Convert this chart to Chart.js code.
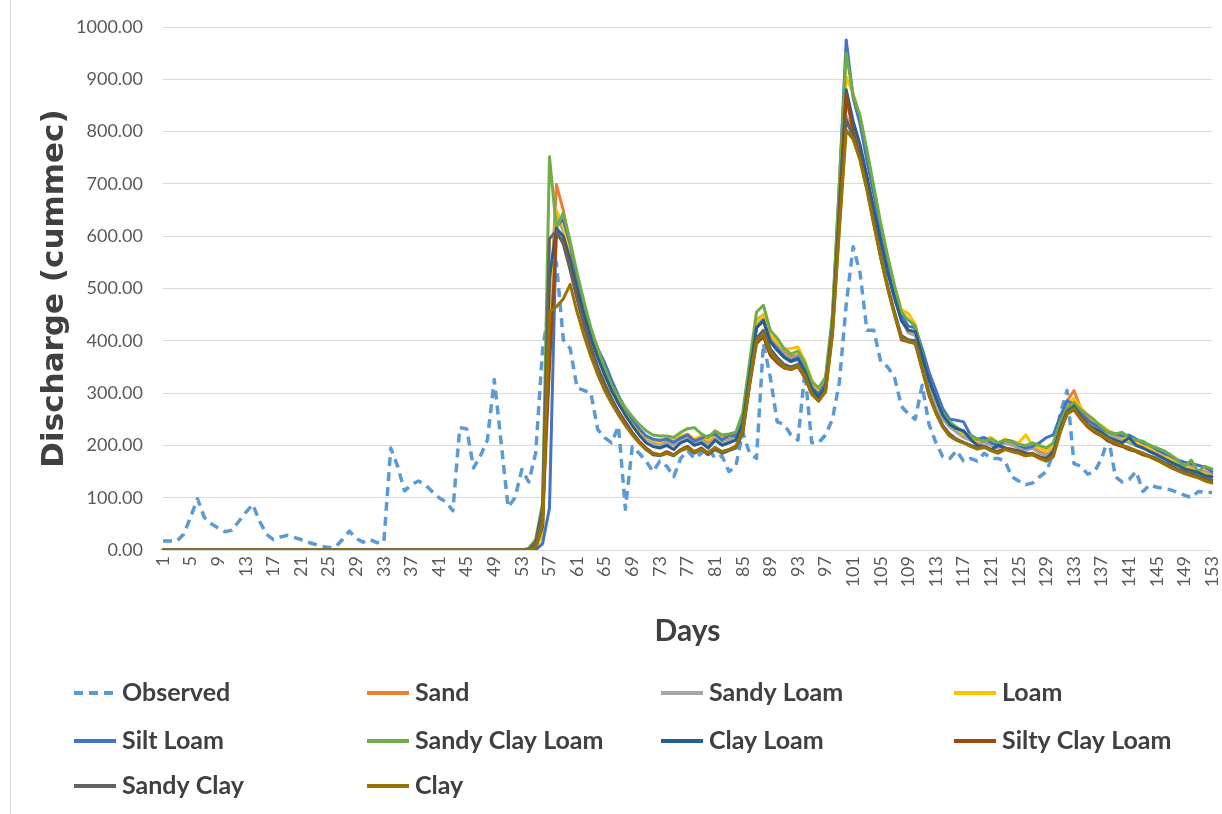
<!DOCTYPE html>
<html>
<head>
<meta charset="utf-8">
<title>Discharge by soil texture</title>
<script src="https://cdn.jsdelivr.net/npm/chart.js@4.4.1/dist/chart.umd.min.js"></script>
<style>
  html, body { margin: 0; padding: 0; background: #ffffff; }
  #wrap { width: 1222px; height: 814px; position: relative; }
  canvas { display: block; }
</style>
</head>
<body>
<div id="wrap"><canvas id="chart" width="1222" height="814"></canvas></div>
<script>
// Day numbers on the x axis
const days = [
  '1','2','3','4','5','6','7','8','9','10','11','12','13','14','15','16','17','18','19','20',
  '21','22','23','24','25','26','27','28','29','30','31','32','33','34','35','36','37','38','39','40',
  '41','42','43','44','45','46','47','48','49','50','51','52','53','54','55','56','57','58','59','60',
  '61','62','63','64','65','66','67','68','69','70','71','72','73','74','75','76','77','78','79','80',
  '81','82','83','84','85','86','87','88','89','90','91','92','93','94','95','96','97','98','99','100',
  '101','102','103','104','105','106','107','108','109','110','111','112','113','114','115','116','117','118','119','120',
  '121','122','123','124','125','126','127','128','129','130','131','132','133','134','135','136','137','138','139','140',
  '141','142','143','144','145','146','147','148','149','150','151','152','153'
];

// Observed discharge (cummec), days 1-153
const observed = [
  17,17,17,30,63,98,62,50,42,35,
  38,55,72,87,55,30,20,25,28,24,
  20,15,11,7,5,6,20,36,22,15,
  20,14,15,195,160,113,125,132,125,112,
  100,92,75,234,232,157,180,210,326,205,
  82,100,154,130,185,383,470,550,402,385,
  310,305,300,230,215,205,237,78,198,185,
  170,150,170,160,140,175,190,175,185,195,
  175,180,150,160,225,185,175,395,330,245,
  240,220,210,340,205,205,220,250,320,470,
  580,530,420,420,360,350,330,275,260,250,
  315,240,205,178,175,190,170,175,170,185,
  175,175,170,140,132,125,128,140,150,185,
  260,305,165,160,145,150,175,215,140,130,
  135,150,112,125,120,118,115,110,105,100,
  112,110,110
];

// Simulated discharge per soil texture class, days 1-153
const sand = [
  0,0,0,0,0,0,0,0,0,0, 0,0,0,0,0,0,0,0,0,0, 0,0,0,0,0,0,0,0,0,0, 0,0,0,0,0,0,0,0,0,0, 0,0,0,0,0,0,0,0,0,0, 0,0,0,
  0,5,40,430,699,650,580,515,460,415,
  375,340,312,290,268,248,230,215,208,205,
  210,205,215,220,210,215,205,220,212,215,
  220,250,340,440,450,410,395,378,370,372,
  352,318,300,325,440,670,855,815,770,710,
  650,590,535,485,445,420,412,365,320,285,
  255,238,228,220,212,205,210,202,198,210,
  205,198,192,198,188,182,195,245,285,305,
  270,252,240,235,225,218,212,210,205,198,
  192,188,182,175,168,162,160,152,150,145
];
const sandyLoam = [
  0,0,0,0,0,0,0,0,0,0, 0,0,0,0,0,0,0,0,0,0, 0,0,0,0,0,0,0,0,0,0, 0,0,0,0,0,0,0,0,0,0, 0,0,0,0,0,0,0,0,0,0, 0,0,0,
  0,5,35,480,640,610,560,505,455,410,
  370,335,305,280,258,240,225,212,205,200,
  205,200,210,215,205,210,200,215,205,210,
  215,240,330,430,445,405,390,375,365,370,
  350,315,300,320,430,660,830,800,760,700,
  640,585,530,480,440,415,410,360,315,280,
  250,235,225,215,210,200,205,200,195,205,
  200,195,190,195,185,180,190,235,270,285,
  260,245,235,230,220,215,210,205,200,195,
  190,185,178,172,165,160,158,150,148,145
];
const loam = [
  0,0,0,0,0,0,0,0,0,0, 0,0,0,0,0,0,0,0,0,0, 0,0,0,0,0,0,0,0,0,0, 0,0,0,0,0,0,0,0,0,0, 0,0,0,0,0,0,0,0,0,0, 0,0,0,
  0,3,30,450,650,620,570,515,462,418,
  378,342,312,288,262,245,228,215,210,205,
  215,208,218,222,212,218,210,222,215,218,
  222,255,345,435,450,410,398,385,385,388,
  362,325,305,322,435,680,905,872,830,760,
  690,620,560,505,460,452,432,378,330,292,
  262,245,232,222,218,208,212,215,205,212,
  208,205,220,200,195,188,200,250,278,290,
  272,258,245,238,228,222,215,210,205,200,
  195,190,183,175,170,162,155,150,145,140
];
const siltLoam = [
  0,0,0,0,0,0,0,0,0,0, 0,0,0,0,0,0,0,0,0,0, 0,0,0,0,0,0,0,0,0,0, 0,0,0,0,0,0,0,0,0,0, 0,0,0,0,0,0,0,0,0,0, 0,0,0,
  0,0,12,80,620,632,585,520,470,420,
  385,358,325,295,270,250,232,218,212,210,
  212,206,214,220,208,214,218,222,210,220,
  218,255,350,425,440,400,385,370,362,368,
  345,310,298,318,440,700,975,865,815,745,
  680,610,550,495,450,428,425,385,340,305,
  270,250,248,245,220,212,215,205,200,210,
  208,200,195,198,205,215,220,255,285,278,
  262,248,240,232,225,222,218,220,212,205,
  200,192,185,180,172,168,165,162,158,150
];
const sandyClayLoam = [
  0,0,0,0,0,0,0,0,0,0, 0,0,0,0,0,0,0,0,0,0, 0,0,0,0,0,0,0,0,0,0, 0,0,0,0,0,0,0,0,0,0, 0,0,0,0,0,0,0,0,0,0, 0,0,0,
  3,20,90,752,615,645,590,530,475,425,
  385,348,315,292,272,255,240,228,220,218,
  218,215,225,232,234,222,215,228,220,222,
  225,262,360,455,468,420,405,385,375,380,
  358,322,310,330,450,700,950,870,830,765,
  695,625,562,505,455,440,428,375,325,290,
  262,245,235,225,218,212,208,212,205,210,
  206,202,200,205,200,195,205,245,272,282,
  268,258,248,235,225,222,225,215,210,208,
  200,195,190,182,172,160,172,150,160,155
];
const clayLoam = [
  0,0,0,0,0,0,0,0,0,0, 0,0,0,0,0,0,0,0,0,0, 0,0,0,0,0,0,0,0,0,0, 0,0,0,0,0,0,0,0,0,0, 0,0,0,0,0,0,0,0,0,0, 0,0,0,
  0,5,45,520,615,600,555,500,450,405,
  368,335,305,280,258,238,220,205,198,195,
  200,192,205,210,200,205,195,210,200,205,
  210,240,335,425,438,398,382,368,360,365,
  342,308,292,312,425,650,880,820,775,715,
  650,590,532,482,438,420,418,372,325,290,
  258,240,232,228,212,200,198,192,200,195,
  192,190,185,182,178,175,188,232,265,275,
  255,240,232,225,215,210,205,215,200,195,
  188,182,175,168,162,155,152,148,142,140
];
const siltyClayLoam = [
  0,0,0,0,0,0,0,0,0,0, 0,0,0,0,0,0,0,0,0,0, 0,0,0,0,0,0,0,0,0,0, 0,0,0,0,0,0,0,0,0,0, 0,0,0,0,0,0,0,0,0,0, 0,0,0,
  0,8,60,350,605,590,540,485,432,388,
  350,318,290,265,245,225,208,195,185,182,
  188,182,192,198,188,195,185,195,188,192,
  198,225,315,395,408,372,358,348,345,350,
  330,298,285,305,420,640,872,800,752,695,
  625,560,502,450,402,398,395,345,295,262,
  235,218,210,205,200,195,198,192,188,195,
  192,188,182,185,178,172,182,225,260,268,
  250,235,225,218,208,202,198,192,188,182,
  178,172,165,158,152,148,145,140,135,130
];
const sandyClay = [
  0,0,0,0,0,0,0,0,0,0, 0,0,0,0,0,0,0,0,0,0, 0,0,0,0,0,0,0,0,0,0, 0,0,0,0,0,0,0,0,0,0, 0,0,0,0,0,0,0,0,0,0, 0,0,0,
  2,15,80,595,610,585,535,480,428,385,
  348,315,288,262,242,222,205,192,182,180,
  185,180,190,195,185,192,182,192,185,190,
  195,222,318,405,420,385,368,355,350,355,
  335,300,285,305,415,620,823,790,748,690,
  625,562,505,455,410,402,400,350,300,265,
  238,222,212,206,200,195,197,190,186,193,
  190,186,180,183,176,170,180,228,262,272,
  252,238,228,220,210,205,200,195,190,185,
  180,175,168,162,155,150,148,142,138,134
];
const clay = [
  0,0,0,0,0,0,0,0,0,0, 0,0,0,0,0,0,0,0,0,0, 0,0,0,0,0,0,0,0,0,0, 0,0,0,0,0,0,0,0,0,0, 0,0,0,0,0,0,0,0,0,0, 0,0,0,
  0,5,50,455,465,480,508,455,410,370,
  335,305,280,258,238,220,205,192,185,182,
  186,182,190,195,188,192,186,196,188,192,
  198,228,320,400,412,378,362,350,346,352,
  332,298,285,302,410,610,803,785,745,688,
  622,558,500,450,405,398,396,348,298,262,
  235,218,210,205,198,193,196,190,185,192,
  188,185,180,182,175,170,178,225,262,270,
  252,238,228,220,212,205,200,195,190,185,
  178,172,165,158,152,146,142,138,132,128
];

// Series names and colours
const seriesNames = ['Observed','Sand','Sandy Loam','Loam','Silt Loam','Sandy Clay Loam','Clay Loam','Silty Clay Loam','Sandy Clay','Clay'];
const seriesColors = ['#5B9BD5','#ED7D31','#A5A5A5','#FFC000','#4472C4','#70AD47','#255E91','#9E480E','#636363','#997300'];
const seriesValues = [observed, sand, sandyLoam, loam, siltLoam, sandyClayLoam, clayLoam, siltyClayLoam, sandyClay, clay];

// Y axis tick values
const yTicks = [0,100,200,300,400,500,600,700,800,900,1000];

const datasets = seriesNames.map((name, i) => ({
  label: name,
  data: seriesValues[i],
  borderColor: seriesColors[i],
  backgroundColor: seriesColors[i],
  borderWidth: i === 0 ? 3.5 : 3,
  borderDash: i === 0 ? [9, 6] : [],
  borderJoinStyle: 'round',
  borderCapStyle: i === 0 ? 'butt' : 'round',
  pointRadius: 0,
  pointHoverRadius: 0,
  tension: 0,
  fill: false,
  order: -i   // later series are painted over earlier ones
}));

// Four-column legend under the plot
const legendGrid = { cols: [74, 367, 661, 954], rows: [693, 741, 786], lineLen: 42, textGap: 6 };
const gridLegend = {
  id: 'gridLegend',
  afterDraw(chart) {
    const ctx = chart.ctx;
    ctx.save();
    ctx.font = 'bold 25px Lato';
    ctx.textBaseline = 'middle';
    ctx.textAlign = 'left';
    chart.data.datasets.forEach((ds, i) => {
      const x = legendGrid.cols[i % 4];
      const y = legendGrid.rows[Math.floor(i / 4)];
      ctx.beginPath();
      ctx.strokeStyle = ds.borderColor;
      ctx.lineWidth = 4;
      ctx.lineCap = 'butt';
      ctx.setLineDash(ds.borderDash && ds.borderDash.length ? [9, 6] : []);
      ctx.moveTo(x, y);
      ctx.lineTo(x + legendGrid.lineLen, y);
      ctx.stroke();
      ctx.setLineDash([]);
      ctx.fillStyle = '#404040';
      ctx.fillText(ds.label, x + legendGrid.lineLen + legendGrid.textGap, y);
    });
    ctx.restore();
  }
};

// White page with a thin frame line on the left edge
const pageFrame = {
  id: 'pageFrame',
  beforeDraw(chart) {
    const ctx = chart.ctx;
    ctx.save();
    ctx.fillStyle = '#ffffff';
    ctx.fillRect(0, 0, chart.width, chart.height);
    ctx.strokeStyle = '#d9d9d9';
    ctx.lineWidth = 1;
    ctx.beginPath();
    ctx.moveTo(10.5, 0);
    ctx.lineTo(10.5, chart.height);
    ctx.stroke();
    ctx.restore();
  }
};

Chart.defaults.font.family = 'Lato';

new Chart(document.getElementById('chart'), {
  type: 'line',
  data: { labels: days, datasets },
  options: {
    responsive: false,
    devicePixelRatio: 1,
    animation: false,
    layout: { padding: { left: 0, right: 10, top: 27, bottom: 154 } },
    plugins: {
      legend: { display: false },
      tooltip: { enabled: false }
    },
    scales: {
      x: {
        type: 'category',
        offset: false,
        grid: { display: false, drawTicks: false },
        border: { display: false },
        ticks: {
          autoSkip: false,
          maxRotation: 90,
          minRotation: 90,
          padding: 6,
          color: '#595959',
          font: { size: 18, family: 'Lato' },
          callback(value, index) { return index % 4 === 0 ? this.getLabelForValue(value) : ''; }
        },
        title: {
          display: true,
          text: 'Days',
          color: '#404040',
          font: { size: 30, weight: 'bold', family: 'Lato' },
          padding: { top: 0, bottom: 11 }
        },
        afterFit(scale) {
          scale.height = 110;
          scale.paddingLeft = 0;
          scale.paddingRight = 0;
        }
      },
      y: {
        min: 0,
        max: 1000,
        afterBuildTicks(scale) { scale.ticks = yTicks.map(v => ({ value: v })); },
        grid: { color: '#d9d9d9', lineWidth: 1, drawTicks: false },
        border: { display: false },
        ticks: {
          padding: 20,
          color: '#595959',
          font: { size: 18, family: 'Lato' },
          callback(value) { return Number(value).toFixed(2); }
        },
        title: {
          display: true,
          text: 'Discharge (cummec)',
          color: '#404040',
          font: { size: 31, weight: 'bold', family: 'DejaVu Sans' },
          padding: { top: 36, bottom: 0 }
        },
        afterFit(scale) {
          scale.width = 163;
          scale.paddingTop = 0;
          scale.paddingBottom = 0;
        }
      }
    }
  },
  plugins: [pageFrame, gridLegend]
});
</script>
</body>
</html>
